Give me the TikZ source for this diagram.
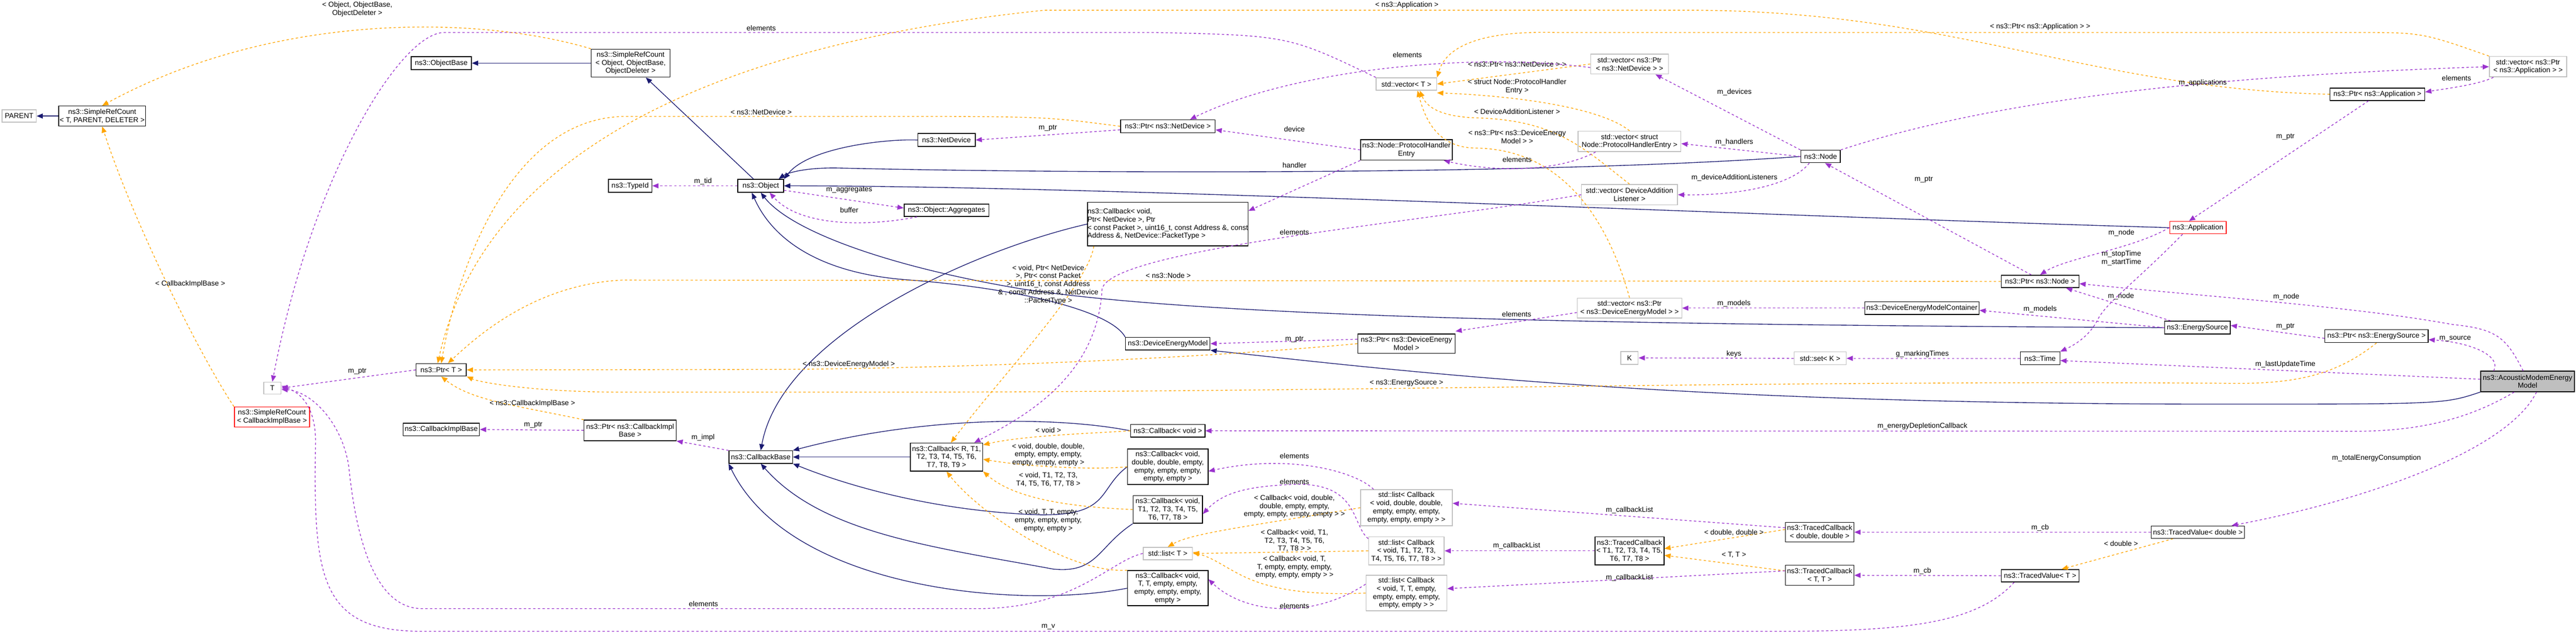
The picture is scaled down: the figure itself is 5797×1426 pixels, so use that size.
\documentclass[tikz,border=0pt]{standalone}
\usepackage{fontspec}
\setmainfont{Liberation Sans}
\usetikzlibrary{arrows.meta}
\definecolor{inhc}{RGB}{25,25,112}
\definecolor{usec}{RGB}{154,50,205}
\definecolor{tplc}{RGB}{255,165,0}
\begin{document}
\begin{tikzpicture}[x=0.01cm,y=-0.01cm,
  every node/.style={font=\fontsize{4.6}{5.2}\selectfont,inner sep=0pt,align=center},
  bx/.style={draw=black,line width=0.5pt,fill=white},
  gbx/.style={draw=black!25,line width=0.5pt,fill=white},
  rbx/.style={draw=red,line width=0.5pt,fill=white},
  lbl/.style={fill=none},
  inh/.style={draw=inhc,line width=0.45pt,-{Triangle[length=4pt,width=3.2pt]}},
  use/.style={draw=usec,line width=0.45pt,dash pattern=on 1.5pt off 1.5pt,-{Triangle[length=4pt,width=3.2pt]}},
  tpl/.style={draw=tplc,line width=0.45pt,dash pattern=on 1.5pt off 1.5pt,-{Triangle[length=4pt,width=3.2pt]}},
]
\useasboundingbox (0,0) rectangle (5797,1426);
% nodes
\node[gbx,minimum width=0.77cm,minimum height=0.28cm] (parent) at (43,261) {PARENT};
\node[bx,minimum width=1.95cm,minimum height=0.45cm] (srcT) at (230,261) {ns3::SimpleRefCount\\< T, PARENT, DELETER >};
\node[bx,minimum width=1.36cm,minimum height=0.29cm] (objbase) at (993,142) {ns3::ObjectBase};
\node[bx,minimum width=1.77cm,minimum height=0.63cm] (srcObj) at (1419,142) {ns3::SimpleRefCount\\< Object, ObjectBase,\\ObjectDeleter >};
\node[bx,minimum width=0.98cm,minimum height=0.29cm] (typeid) at (1418,418) {ns3::TypeId};
\node[bx,minimum width=1.03cm,minimum height=0.29cm] (object) at (1712,418) {ns3::Object};
\node[bx,minimum width=1.29cm,minimum height=0.29cm] (netdev) at (2130,315) {ns3::NetDevice};
\node[bx,minimum width=2.13cm,minimum height=0.29cm] (ptrND) at (2628,284) {ns3::Ptr< ns3::NetDevice >};
\node[bx,minimum width=1.91cm,minimum height=0.28cm] (aggr) at (2130,473) {ns3::Object::Aggregates};
\node[bx,minimum width=2.79cm,minimum height=0.98cm,align=left] (cbND) at (2628,504) {ns3::Callback< void,\\ Ptr< NetDevice >, Ptr\\< const Packet >, uint16\_t, const Address \&, const\\ Address \&, NetDevice::PacketType >};
\node[gbx,minimum width=1.36cm,minimum height=0.28cm] (vecT) at (3165,189) {std::vector< T >};
\node[bx,minimum width=2.06cm,minimum height=0.46cm] (phe) at (3165,337) {ns3::Node::ProtocolHandler\\Entry};
\node[gbx,minimum width=1.75cm,minimum height=0.45cm] (vecPND) at (3667,144) {std::vector< ns3::Ptr\\< ns3::NetDevice > >};
\node[gbx,minimum width=2.31cm,minimum height=0.46cm] (vecPHE) at (3667,318) {std::vector< struct\\ Node::ProtocolHandlerEntry >};
\node[gbx,minimum width=2.16cm,minimum height=0.46cm] (vecDAL) at (3667,438) {std::vector< DeviceAddition\\Listener >};
\node[bx,minimum width=0.89cm,minimum height=0.28cm] (node) at (4097,352) {ns3::Node};
\node[gbx,minimum width=1.74cm,minimum height=0.46cm] (vecPApp) at (5689,150) {std::vector< ns3::Ptr\\< ns3::Application > >};
\node[bx,minimum width=2.13cm,minimum height=0.28cm] (ptrApp) at (5350,212) {ns3::Ptr< ns3::Application >};
\node[rbx,minimum width=1.27cm,minimum height=0.28cm] (app) at (4946,512) {ns3::Application};
\node[bx,minimum width=1.75cm,minimum height=0.28cm] (ptrNode) at (4591,633) {ns3::Ptr< ns3::Node >};
\node[bx,minimum width=2.57cm,minimum height=0.28cm] (demc) at (4325,693) {ns3::DeviceEnergyModelContainer};
\node[gbx,minimum width=0.39cm,minimum height=0.27cm] (T) at (613,873) {T};
\node[bx,minimum width=1.13cm,minimum height=0.28cm] (ptrT) at (993,832) {ns3::Ptr< T >};
\node[rbx,minimum width=1.69cm,minimum height=0.45cm] (srcCIB) at (612,938) {ns3::SimpleRefCount\\< CallbackImplBase >};
\node[bx,minimum width=1.72cm,minimum height=0.28cm] (cib) at (993,966) {ns3::CallbackImplBase};
\node[bx,minimum width=2.07cm,minimum height=0.46cm] (ptrCIB) at (1418,968) {ns3::Ptr< ns3::CallbackImpl\\Base >};
\node[bx,minimum width=1.43cm,minimum height=0.28cm] (cbb) at (1712,1028) {ns3::CallbackBase};
\node[bx,minimum width=1.90cm,minimum height=0.28cm] (dem) at (2628,773) {ns3::DeviceEnergyModel};
\node[bx,minimum width=2.19cm,minimum height=0.44cm] (ptrDEM) at (3165,773) {ns3::Ptr< ns3::DeviceEnergy\\Model >};
\node[bx,minimum width=1.67cm,minimum height=0.28cm] (cbv) at (2628,969) {ns3::Callback< void >};
\node[bx,minimum width=1.63cm,minimum height=0.63cm] (cbR) at (2130,1028) {ns3::Callback< R, T1,\\T2, T3, T4, T5, T6,\\T7, T8, T9 >};
\node[bx,minimum width=1.81cm,minimum height=0.80cm] (cbdd) at (2628,1050) {ns3::Callback< void,\\double, double, empty,\\empty, empty, empty,\\empty, empty >};
\node[bx,minimum width=1.56cm,minimum height=0.62cm] (cbT1) at (2628,1146) {ns3::Callback< void,\\T1, T2, T3, T4, T5,\\T6, T7, T8 >};
\node[gbx,minimum width=1.11cm,minimum height=0.28cm] (listT) at (2628,1245) {std::list< T >};
\node[bx,minimum width=1.81cm,minimum height=0.79cm] (cbTT) at (2628,1323) {ns3::Callback< void,\\T, T, empty, empty,\\empty, empty, empty,\\empty >};
\node[gbx,minimum width=2.35cm,minimum height=0.45cm] (vecPDEM) at (3667,693) {std::vector< ns3::Ptr\\< ns3::DeviceEnergyModel > >};
\node[gbx,minimum width=0.39cm,minimum height=0.29cm] (K) at (3667,805) {K};
\node[gbx,minimum width=1.17cm,minimum height=0.29cm] (setK) at (4096,806) {std::set< K >};
\node[gbx,minimum width=2.06cm,minimum height=0.81cm] (listdd) at (3165,1142) {std::list< Callback\\< void, double, double,\\empty, empty, empty,\\empty, empty, empty > >};
\node[gbx,minimum width=1.70cm,minimum height=0.63cm] (listT1) at (3165,1239) {std::list< Callback\\< void, T1, T2, T3,\\T4, T5, T6, T7, T8 > >};
\node[gbx,minimum width=1.82cm,minimum height=0.80cm] (listTT) at (3165,1334) {std::list< Callback\\< void, T, T, empty,\\empty, empty, empty,\\empty, empty > >};
\node[bx,minimum width=1.55cm,minimum height=0.63cm] (tcT1) at (3667,1239) {ns3::TracedCallback\\< T1, T2, T3, T4, T5,\\T6, T7, T8 >};
\node[bx,minimum width=1.54cm,minimum height=0.44cm] (tcdd) at (4095,1197) {ns3::TracedCallback\\< double, double >};
\node[bx,minimum width=1.54cm,minimum height=0.45cm] (tcTT) at (4095,1294) {ns3::TracedCallback\\< T, T >};
\node[bx,minimum width=1.48cm,minimum height=0.29cm] (es) at (4945,737) {ns3::EnergySource};
\node[bx,minimum width=2.32cm,minimum height=0.29cm] (ptrES) at (5348,756) {ns3::Ptr< ns3::EnergySource >};
\node[bx,minimum width=0.89cm,minimum height=0.29cm] (time) at (4591,806) {ns3::Time};
\node[bx,fill=black!25,minimum width=2.11cm,minimum height=0.46cm] (acm) at (5688,858) {ns3::AcousticModemEnergy\\Model};
\node[bx,minimum width=2.10cm,minimum height=0.28cm] (tvd) at (4946,1197) {ns3::TracedValue< double >};
\node[bx,minimum width=1.75cm,minimum height=0.28cm] (tvT) at (4591,1295) {ns3::TracedValue< T >};

% inheritance
\draw[inh] (srcT) -- (parent);
\draw[inh] (srcObj) -- (objbase);
\draw[inh] (object) -- (srcObj);
\draw[inh] (netdev.west) .. controls (2000,312) and (1820,330) .. (object.north east);
\draw[inh] (node.west) .. controls (3400,398) and (2300,388) .. (1890,378) .. controls (1810,376) and (1770,390) .. ([xshift=-0.12cm]object.north east);
\draw[inh] (app.west) .. controls (4000,487) and (2500,418) .. (object.east);
\draw[inh] (es.west) .. controls (3500,730) and (2700,710) .. (2300,650) .. controls (2000,600) and (1780,520) .. (object.south);
\draw[inh] (dem.north west) .. controls (2500,700) and (2300,650) .. (2050,630) .. controls (1820,615) and (1730,520) .. ([xshift=-0.2cm]object.south);
\draw[inh] (acm.south west) .. controls (5500,909) .. (5000,909) .. controls (3800,909) and (3200,840) .. (dem.south east);
\draw[inh] (cbND.west) .. controls (2200,560) and (1760,750) .. (cbb.north);
\draw[inh] (cbR) -- (cbb);
\draw[inh] (cbv.west) .. controls (2400,940) and (2100,930) .. (cbb.north east);
\draw[inh] (cbdd.west) .. controls (2470,1100) and (2500,1160) .. (2340,1158) .. controls (2100,1150) and (1900,1090) .. (cbb.south east);
\draw[inh] (cbT1.south west) .. controls (2470,1230) and (2470,1290) .. (2370,1280) .. controls (2100,1230) and (1850,1200) .. (cbb.south);
\draw[inh] (cbTT.west) .. controls (2300,1370) and (1780,1330) .. (cbb.south west);

% template instantiation
\draw[tpl] (srcObj.north west) .. controls (1080,35) and (620,25) .. (srcT.north);
\node[lbl] (l1) at (804,21) {< Object, ObjectBase,\\ObjectDeleter >};
\draw[tpl] (srcCIB.north west) .. controls (450,800) and (300,500) .. (srcT.south);
\node[lbl] (l2) at (428,639) {< CallbackImplBase >};
\draw[tpl] (ptrND.west) .. controls (2350,262) .. (2000,262) -- (1400,262) .. controls (1150,270) and (1030,600) .. (ptrT.north);
\node[lbl] (l3) at (1713,252) {< ns3::NetDevice >};
\draw[tpl] (ptrApp.west) .. controls (4700,200) and (4400,23) .. (3800,23) -- (2350,23) .. controls (1700,90) and (1100,300) .. ([xshift=-0.08cm]ptrT.north);
\node[lbl] (l4) at (3166,12) {< ns3::Application >};
\draw[tpl] (ptrNode.west) -- (1400,630) .. controls (1200,640) and (1070,760) .. ([xshift=0.15cm]ptrT.north);
\node[lbl] (l5) at (2629,620) {< ns3::Node >};
\draw[tpl] (ptrDEM.west) .. controls (2600,815) and (2000,831) .. (1700,831) -- (ptrT.east);
\node[lbl] (l6) at (1910,820) {< ns3::DeviceEnergyModel >};
\draw[tpl] (ptrES.south) .. controls (5250,850) and (5150,865) .. (5000,862) .. controls (4000,855) and (3000,882) .. (2000,882) -- (1400,882) .. controls (1200,882) and (1080,860) .. (ptrT.south east);
\node[lbl] (l7) at (3165,862) {< ns3::EnergySource >};
\draw[tpl] (ptrCIB.north west) .. controls (1150,910) and (1060,900) .. (ptrT.south);
\node[lbl] (l8) at (1198,908) {< ns3::CallbackImplBase >};
\draw[tpl] (vecPND.west) -- (vecT.east);
\node[lbl] (l9) at (3414,144) {< ns3::Ptr< ns3::NetDevice > >};
\draw[tpl] (vecPHE.north) .. controls (3600,240) and (3400,215) .. ([yshift=-0.05cm]vecT.south east);
\node[lbl] (l10) at (3414,195) {< struct Node::ProtocolHandler\\Entry >};
\draw[tpl] (vecDAL.north) .. controls (3560,330) and (3500,270) .. (3320,265) .. controls (3240,262) and (3210,240) .. ([xshift=0.3cm]vecT.south);
\node[lbl] (l11) at (3414,251) {< DeviceAdditionListener >};
\draw[tpl] (vecPDEM.north) .. controls (3620,500) and (3520,335) .. (3320,333) .. controls (3230,332) and (3205,260) .. ([xshift=0.25cm]vecT.south);
\node[lbl] (l12) at (3414,308) {< ns3::Ptr< ns3::DeviceEnergy\\Model > >};
\draw[tpl] (vecPApp.north west) .. controls (5450,73) .. (5300,73) -- (3500,73) .. controls (3300,68) and (3250,120) .. (vecT.north east);
\node[lbl] (l13) at (4591,60) {< ns3::Ptr< ns3::Application > >};
\draw[tpl] ([xshift=0.15cm]cbND.south west) .. controls (2450,640) and (2250,850) .. ([xshift=0.1cm]cbR.north);
\node[lbl] (l14) at (2359,640) {< void, Ptr< NetDevice\\>, Ptr< const Packet\\>, uint16\_t, const Address\\\& , const Address \&, NetDevice\\::PacketType >};
\draw[tpl] (cbv.west) .. controls (2450,975) and (2300,980) .. ([yshift=-0.05cm]cbR.north east);
\node[lbl] (l15) at (2359,967) {< void >};
\draw[tpl] (cbdd.west) .. controls (2450,1058) and (2300,1048) .. ([yshift=-0.05cm]cbR.east);
\node[lbl] (l16) at (2359,1023) {< void, double, double,\\empty, empty, empty,\\empty, empty, empty >};
\draw[tpl] (cbT1.west) .. controls (2400,1140) and (2280,1120) .. (cbR.south east);
\node[lbl] (l17) at (2359,1079) {< void, T1, T2, T3,\\T4, T5, T6, T7, T8 >};
\draw[tpl] (cbTT.north west) .. controls (2400,1290) and (2200,1150) .. (cbR.south);
\node[lbl] (l18) at (2359,1171) {< void, T, T, empty,\\empty, empty, empty,\\empty, empty >};
\draw[tpl] (listdd.west) .. controls (2800,1185) and (2680,1200) .. (listT.north);
\node[lbl] (l19) at (2913,1139) {< Callback< void, double,\\double, empty, empty,\\empty, empty, empty, empty > >};
\draw[tpl] (listT1.west) -- (listT.east);
\node[lbl] (l20) at (2913,1216) {< Callback< void, T1,\\T2, T3, T4, T5, T6,\\T7, T8 > >};
\draw[tpl] (listTT.west) .. controls (2800,1345) and (2780,1270) .. ([yshift=0.03cm]listT.east);
\node[lbl] (l21) at (2913,1276) {< Callback< void, T,\\T, empty, empty, empty,\\empty, empty, empty > >};
\draw[tpl] ([yshift=0.06cm]tcdd.west) -- ([yshift=0.05cm]tcT1.east);
\node[lbl] (l22) at (3902,1198) {< double, double >};
\draw[tpl] ([yshift=0.1cm]tcTT.west) -- ([yshift=-0.1cm]tcT1.east);
\node[lbl] (l23) at (3902,1248) {< T, T >};
\draw[tpl] ([xshift=0.5cm]tvd.south west) -- ([xshift=-0.4cm]tvT.north east);
\node[lbl] (l24) at (4773,1223) {< double >};

% usage
\draw[use] (object) -- (typeid);
\node[lbl] (u1) at (1582,408) {m\_tid};
\draw[use] ([yshift=-0.1cm]object.east) -- ([yshift=0.05cm]aggr.west);
\node[lbl] (u2) at (1911,427) {m\_aggregates};
\draw[use] ([xshift=0.3cm]aggr.south west) .. controls (1950,510) and (1800,510) .. ([xshift=0.2cm]object.south);
\node[lbl] (u3) at (1911,473) {buffer};
\draw[use] (ptrT.west) -- (T.east);
\node[lbl] (u4) at (804,835) {m\_ptr};
\draw[use] ([yshift=-0.08cm]ptrND.west) -- (netdev.east);
\node[lbl] (u5) at (2358,288) {m\_ptr};
\draw[use] (ptrCIB.west) -- (cib.east);
\node[lbl] (u6) at (1200,956) {m\_ptr};
\draw[use] (cbb.north west) -- (ptrCIB.south east);
\node[lbl] (u7) at (1582,984) {m\_impl};
\draw[use] (phe.west) -- ([yshift=-0.08cm]ptrND.east);
\node[lbl] (u8) at (2913,291) {device};
\draw[use] (phe.south west) -- ([yshift=-0.2cm]cbND.north east);
\node[lbl] (u9) at (2913,372) {handler};
\draw[use] (vecT.north west) .. controls (2900,80) .. (2600,73) -- (1000,73) .. controls (900,73) and (700,400) .. (T.north);
\node[lbl] (u10) at (1713,63) {elements};
\draw[use] ([yshift=-0.08cm]vecPND.west) .. controls (3300,115) and (2900,160) .. ([xshift=0.5cm]ptrND.north);
\node[lbl] (u11) at (3167,124) {elements};
\draw[use] ([xshift=0.4cm]vecPHE.south west) .. controls (3500,390) and (3350,385) .. ([xshift=-0.2cm]phe.south east);
\node[lbl] (u12) at (3414,359) {elements};
\draw[use] (vecDAL.west) .. controls (3200,500) and (2500,560) .. (2480,650) .. controls (2470,850) and (2300,940) .. ([xshift=-0.2cm]cbR.north east);
\node[lbl] (u13) at (2913,522) {elements};
\draw[use] (node.north west) -- ([xshift=-0.3cm]vecPND.south east);
\node[lbl] (u14) at (3903,207) {m\_devices};
\draw[use] (node.west) -- ([yshift=-0.05cm]vecPHE.east);
\node[lbl] (u15) at (3903,320) {m\_handlers};
\draw[use] ([xshift=0.2cm]node.south west) .. controls (4030,420) and (3900,440) .. (vecDAL.east);
\node[lbl] (u16) at (3903,400) {m\_deviceAdditionListeners};
\draw[use] (node.north east) .. controls (4500,220) and (5000,170) .. (vecPApp.west);
\node[lbl] (u17) at (4957,187) {m\_applications};
\draw[use] ([xshift=0.1cm]vecPApp.south west) .. controls (5580,190) and (5500,200) .. ([yshift=0.05cm]ptrApp.east);
\node[lbl] (u18) at (5528,176) {elements};
\draw[use] ([xshift=-0.2cm]ptrApp.south) -- ([xshift=-0.2cm]app.north);
\node[lbl] (u19) at (5143,308) {m\_ptr};
\draw[use] ([xshift=-0.2cm]ptrNode.north) -- ([xshift=0.1cm]node.south);
\node[lbl] (u20) at (4329,404) {m\_ptr};
\draw[use] (app.west) .. controls (4800,560) and (4650,580) .. (ptrNode.north);
\node[lbl] (u21) at (4774,524) {m\_node};
\draw[use] ([xshift=0.3cm]app.south west) .. controls (4800,640) and (4740,680) .. (4720,720) .. controls (4700,760) and (4660,780) .. (time.north east);
\node[lbl] (u22) at (4774,581) {m\_stopTime\\m\_startTime};
\draw[use] ([xshift=0.15cm]es.north west) -- ([xshift=-0.3cm]ptrNode.south east);
\node[lbl] (u23) at (4773,666) {m\_node};
\draw[use] (es.west) -- ([yshift=-0.05cm]demc.east);
\node[lbl] (u24) at (4591,695) {m\_models};
\draw[use] (demc.west) -- (vecPDEM.east);
\node[lbl] (u25) at (3902,683) {m\_models};
\draw[use] ([yshift=-0.1cm]vecPDEM.west) -- ([yshift=0.05cm]ptrDEM.north east);
\node[lbl] (u26) at (3413,707) {elements};
\draw[use] ([yshift=0.1cm]ptrDEM.west) -- (dem.east);
\node[lbl] (u27) at (2913,763) {m\_ptr};
\draw[use] ([yshift=-0.05cm]ptrES.west) -- ([yshift=0.05cm]es.east);
\node[lbl] (u28) at (5143,734) {m\_ptr};
\draw[use] ([xshift=0.3cm]acm.north west) .. controls (5630,800) and (5560,770) .. ([yshift=-0.08cm]ptrES.east);
\node[lbl] (u29) at (5525,762) {m\_source};
\draw[use] ([xshift=-0.1cm]acm.north) .. controls (5640,760) and (5620,740) .. (5520,730) .. controls (5300,690) and (5000,670) .. ([yshift=-0.05cm]ptrNode.east);
\node[lbl] (u30) at (5145,668) {m\_node};
\draw[use] ([yshift=0.05cm]acm.west) -- ([yshift=-0.05cm]time.east);
\node[lbl] (u31) at (5143,820) {m\_lastUpdateTime};
\draw[use] (time.west) -- (setK.east);
\node[lbl] (u32) at (4326,796) {g\_markingTimes};
\draw[use] (setK.west) -- (K.east);
\node[lbl] (u33) at (3902,796) {keys};
\draw[use] ([xshift=-0.3cm]acm.south) .. controls (5560,940) and (5450,970) .. (5300,970) -- (cbv.east);
\node[lbl] (u34) at (4326,959) {m\_energyDepletionCallback};
\draw[use] ([xshift=0.2cm]acm.south) .. controls (5640,1020) and (5300,1130) .. ([xshift=-0.3cm]tvd.north east);
\node[lbl] (u35) at (5348,1030) {m\_totalEnergyConsumption};
\draw[use] (tvd.west) -- (tcdd.east);
\node[lbl] (u36) at (4591,1187) {m\_cb};
\draw[use] (tvT.west) -- (tcTT.east);
\node[lbl] (u37) at (4326,1284) {m\_cb};
\draw[use] ([xshift=0.3cm]tvT.south west) .. controls (4450,1400) and (4300,1420) .. (4000,1420) -- (950,1420) .. controls (720,1420) and (705,1300) .. (710,1000) .. controls (712,920) and (680,885) .. ([yshift=0.05cm]T.east);
\node[lbl] (u38) at (2359,1410) {m\_v};
\draw[use] (listT.west) .. controls (2500,1260) and (2420,1369) .. (2200,1369) -- (950,1369) .. controls (840,1369) and (800,1200) .. (785,1050) .. controls (770,950) and (700,880) .. ([yshift=-0.03cm]T.east);
\node[lbl] (u39) at (1583,1358) {elements};
\draw[use] ([yshift=0.1cm]tcdd.west) -- ([yshift=0.1cm]listdd.east);
\node[lbl] (u40) at (3667,1148) {m\_callbackList};
\draw[use] (tcT1.west) -- (listT1.east);
\node[lbl] (u41) at (3413,1228) {m\_callbackList};
\draw[use] ([yshift=0.1cm]tcTT.west) -- ([yshift=0.1cm]listTT.east);
\node[lbl] (u42) at (3667,1299) {m\_callbackList};
\draw[use] ([xshift=0.3cm]listdd.north west) .. controls (3050,1060) and (2900,1020) .. ([yshift=-0.1cm]cbdd.east);
\node[lbl] (u43) at (2913,1026) {elements};
\draw[use] ([yshift=-0.05cm]listT1.north west) .. controls (3040,1180) and (3060,1080) .. (2900,1090) .. controls (2800,1095) and (2750,1110) .. ([yshift=-0.1cm]cbT1.east);
\node[lbl] (u44) at (2913,1084) {elements};
\draw[use] ([yshift=0.2cm]listTT.west) .. controls (2950,1395) and (2800,1380) .. ([yshift=0.2cm]cbTT.east);
\node[lbl] (u45) at (2913,1363) {elements};
\end{tikzpicture}
\end{document}
